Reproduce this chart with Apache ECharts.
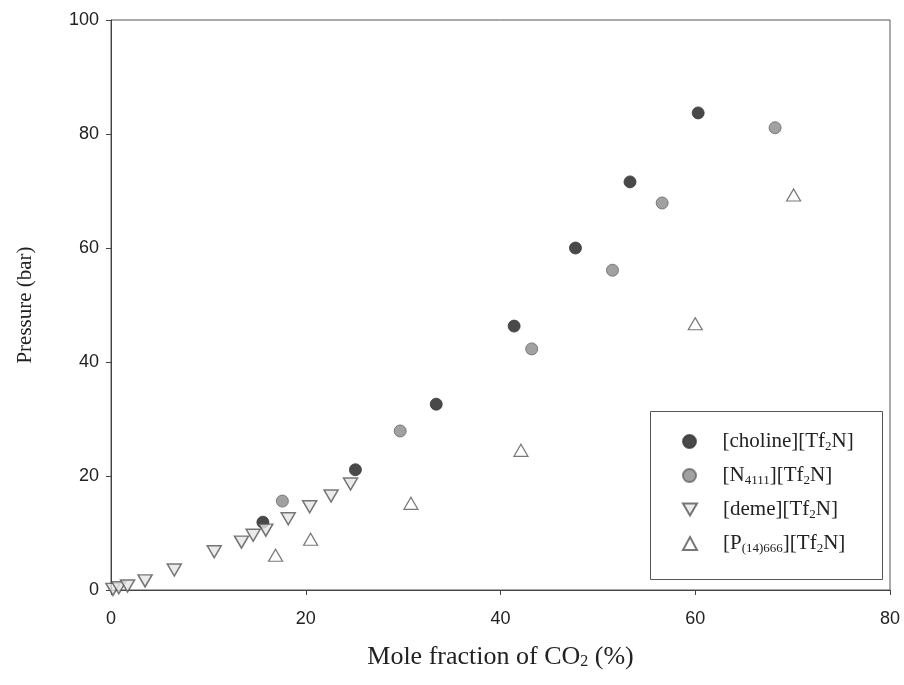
<!DOCTYPE html>
<html>
<head>
<meta charset="utf-8">
<script src="https://cdn.jsdelivr.net/npm/echarts@6/dist/echarts.min.js"></script>
<style>html,body{margin:0;padding:0;background:#fff;}#c{width:904px;height:685px;}</style>
</head>
<body>
<div id="c"></div>
<script>
// Data
var cholineX = [15.6, 25.1, 33.4, 41.4, 47.7, 53.3, 60.3];
var cholineY = [11.9, 21.1, 32.6, 46.3, 60.0, 71.6, 83.7];
var n4111X = [17.6, 29.7, 43.2, 51.5, 56.6, 68.2];
var n4111Y = [15.6, 27.9, 42.3, 56.1, 67.9, 81.1];
var demeX = [0.2, 0.8, 1.7, 3.5, 6.5, 10.6, 13.4, 14.6, 15.9, 18.2, 20.4, 22.6, 24.6];
var demeY = [0.1, 0.4, 0.7, 1.6, 3.5, 6.7, 8.4, 9.6, 10.5, 12.5, 14.6, 16.5, 18.6];
var pX = [16.9, 20.5, 30.8, 42.1, 60.0, 70.1];
var pY = [6.1, 8.9, 15.2, 24.5, 46.7, 69.3];
var seriesNames = ['choline', 'N4111', 'deme', 'P'];
var legendLabels = {
  'choline': '{g|}{n|[choline][Tf}{s|2}{n|N]}',
  'N4111': '{g|}{n|[N}{s|4111}{n|][Tf}{s|2}{n|N]}',
  'deme': '{g|}{n|[deme][Tf}{s|2}{n|N]}',
  'P': '{g|}{n|[P}{s|(14)666}{n|][Tf}{s|2}{n|N]}'
};

function pairs(xs, ys) { return xs.map(function (x, i) { return [x, ys[i]]; }); }

var serif = 'Liberation Serif';
var rich = {
  g: { width: 21, height: 10 },
  n: { fontFamily: serif, fontSize: 21, lineHeight: 24, color: '#222' },
  s: { fontFamily: serif, fontSize: 13, lineHeight: 14, verticalAlign: 'bottom', color: '#222' }
};

var legendTops = [431, 465, 499, 533];
var legends = seriesNames.map(function (nm, i) {
  var item = nm === 'deme' ? { name: nm, icon: 'path://M0,0 L14,0 L7,12 Z' } : { name: nm };
  return {
    data: [item], left: 682, top: legendTops[i], orient: 'vertical',
    itemWidth: 14, itemHeight: 13, padding: 0, selectedMode: false,
    formatter: function (name) { return legendLabels[name]; },
    textStyle: { fontFamily: serif, fontSize: 21, color: '#222', rich: rich }
  };
});

var chart = echarts.init(document.getElementById('c'), null, { renderer: 'canvas' });
chart.setOption({
  backgroundColor: '#fff',
  animation: false,
  grid: { left: 111, right: 14, top: 20, bottom: 95, show: true, borderColor: '#555', borderWidth: 1 },
  xAxis: {
    type: 'value', min: 0, max: 80, interval: 20,
    name: 'Mole fraction of CO{s|2} (%)', nameLocation: 'middle', nameGap: 54,
    nameTextStyle: { fontFamily: serif, fontSize: 26, color: '#222', rich: {
      s: { fontFamily: serif, fontSize: 16, verticalAlign: 'bottom', lineHeight: 16, color: '#222' } } },
    axisLine: { show: true, onZero: false, lineStyle: { color: '#444', width: 1 } },
    axisTick: { show: true, inside: false, length: 5, lineStyle: { color: '#444' } },
    axisLabel: { margin: 20, fontFamily: 'Liberation Sans', fontSize: 18, color: '#222' },
    splitLine: { show: false }
  },
  yAxis: {
    type: 'value', min: 0, max: 100, interval: 20,
    name: 'Pressure (bar)', nameLocation: 'middle', nameGap: 75, nameRotate: 90,
    nameTextStyle: { fontFamily: serif, fontSize: 21, color: '#222' },
    axisLine: { show: true, onZero: false, lineStyle: { color: '#444', width: 1 } },
    axisTick: { show: true, inside: false, length: 5, lineStyle: { color: '#444' } },
    axisLabel: { margin: 12, fontFamily: 'Liberation Sans', fontSize: 18, color: '#222' },
    splitLine: { show: false }
  },
  legend: legends,
  graphic: [{
    type: 'rect', shape: { x: 650.5, y: 411.5, width: 232, height: 168 },
    style: { fill: 'rgba(0,0,0,0)', stroke: '#555', lineWidth: 1 }, z: 100
  }],
  series: [
    { name: 'choline', type: 'scatter', data: pairs(cholineX, cholineY), symbol: 'circle', symbolSize: 12,
      itemStyle: { color: '#1c1c1c', borderColor: '#3a3a3a', borderWidth: 1 } },
    { name: 'N4111', type: 'scatter', data: pairs(n4111X, n4111Y), symbol: 'circle', symbolSize: 12,
      itemStyle: { color: '#8a8a8a', borderColor: '#666', borderWidth: 1 } },
    { name: 'deme', type: 'scatter', data: pairs(demeX, demeY), symbol: 'triangle', symbolRotate: 180, symbolSize: [14, 12],
      itemStyle: { color: '#e6e6e6', borderColor: '#555', borderWidth: 1.5 } },
    { name: 'P', type: 'scatter', data: pairs(pX, pY), symbol: 'triangle', symbolSize: [14, 12],
      itemStyle: { color: '#ffffff', borderColor: '#555', borderWidth: 1.2 } }
  ]
});
</script>
</body>
</html>
